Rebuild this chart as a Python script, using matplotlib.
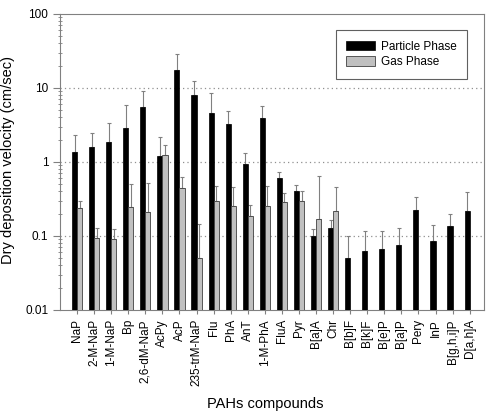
import numpy as np
import matplotlib.pyplot as plt

plt.rcParams['font.family'] = ['Liberation Sans', 'DejaVu Sans']

compounds = ['NaP', '2-M-NaP', '1-M-NaP', 'Bp', '2,6-dM-NaP', 'AcPy', 'AcP',
             '235-trM-NaP', 'Flu', 'PhA', 'AnT', '1-M-PhA', 'FluA', 'Pyr',
             'B[a]A', 'Chr', 'B[b]F', 'B[k]F', 'B[e]P', 'B[a]P', 'Pery', 'InP',
             'B[g,h,i]P', 'D[a,h]A']

# particle phase: mean and top of error bar
particle = [1.35, 1.6, 1.88, 2.85, 5.5, 1.22, 17.7, 8.0, 4.55, 3.23, 0.93, 3.97,
            0.61, 0.40, 0.10, 0.13, 0.050, 0.063, 0.066, 0.076, 0.222, 0.086,
            0.138, 0.22]
particle_top = [2.3, 2.5, 3.4, 5.95, 9.2, 2.2, 29, 12.4, 8.5, 4.9, 1.34, 5.7,
                0.73, 0.49, 0.124, 0.163, 0.10, 0.117, 0.116, 0.128, 0.34, 0.139,
                0.196, 0.39]

# gas phase (only first 16 compounds)
gas = [0.24, 0.095, 0.091, 0.246, 0.21, 1.24, 0.44, 0.051, 0.294, 0.254, 0.186,
       0.257, 0.285, 0.294, 0.17, 0.218]
gas_top = [0.30, 0.13, 0.124, 0.50, 0.52, 1.7, 0.63, 0.144, 0.48, 0.46, 0.26,
           0.47, 0.38, 0.40, 0.65, 0.455]

x = np.arange(len(compounds))
xg = np.arange(len(gas))
w = 0.3

fig = plt.figure(figsize=(4.86, 4.13), dpi=100)
ax = fig.add_axes([60/486, 1 - 310/413, 424/486, 296/413])

p_err = np.array(particle_top) - np.array(particle)
g_err = np.array(gas_top) - np.array(gas)

ax.bar(x - w/2, particle, w, color='black', edgecolor='black', linewidth=0.5,
       label='Particle Phase', zorder=3)
ax.errorbar(x - w/2, particle, yerr=[np.zeros_like(p_err), p_err], fmt='none',
            ecolor='#808080', elinewidth=0.8, capsize=1.5, capthick=0.8, zorder=2)
ax.bar(xg + w/2, gas, w, color='#c0c0c0', edgecolor='#404040', linewidth=0.6,
       label='Gas Phase', zorder=3)
ax.errorbar(xg + w/2, gas, yerr=[np.zeros_like(g_err), g_err], fmt='none',
            ecolor='#808080', elinewidth=0.8, capsize=1.5, capthick=0.8, zorder=2)

ax.set_yscale('log')
ax.set_ylim(0.01, 100)
ax.set_xlim(-1.0, 23.84)
ax.set_yticks([0.01, 0.1, 1, 10, 100])
ax.set_yticklabels(['0.01', '0.1', '1', '10', '100'], fontsize=8.5)
ax.set_xticks(x)
ax.set_xticklabels(compounds, rotation=90, fontsize=8.5)

for v in [0.1, 1, 10]:
    ax.axhline(v, color='#909090', linestyle=(0, (1, 2.5)), linewidth=0.9, zorder=1)

for s in ax.spines.values():
    s.set_color('#808080')
ax.tick_params(axis='y', which='major', direction='out', length=5, color='#808080')
ax.tick_params(axis='y', which='minor', direction='inout', length=3, color='#808080')
ax.tick_params(axis='x', direction='out', length=3, color='#808080')

ax.set_ylabel('Dry deposition velocity (cm/sec)', fontsize=10.5)
ax.yaxis.set_label_coords(-0.106, 0.507)
ax.set_xlabel('PAHs compounds', fontsize=10.5)
ax.xaxis.set_label_coords(0.485, -0.294)

leg = ax.legend(loc='upper right', bbox_to_anchor=(0.96, 0.946), fontsize=8.5,
                fancybox=False, edgecolor='#606060', framealpha=1,
                handlelength=2.4, handleheight=0.9, handletextpad=0.5,
                borderpad=0.9, labelspacing=0.3, borderaxespad=0)
leg.get_frame().set_linewidth(0.8)

fig.savefig('out.png', dpi=100)
